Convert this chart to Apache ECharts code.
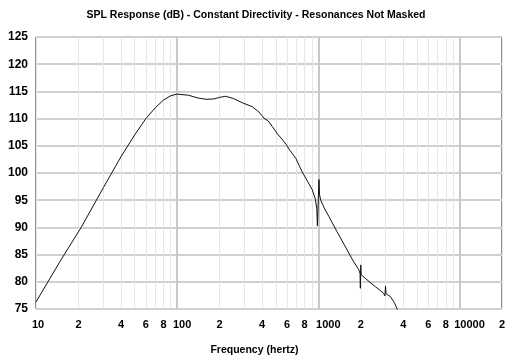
<!DOCTYPE html>
<html><head><meta charset="utf-8">
<script src="https://cdn.jsdelivr.net/npm/echarts@6/dist/echarts.min.js"></script>
<style>html,body{margin:0;padding:0;background:#fff}#c{width:512px;height:364px}</style>
</head><body><div id="c"></div>
<script>
const titleText = 'SPL Response (dB) - Constant Directivity - Resonances Not Masked';
const xAxisName = 'Frequency (hertz)';
const freqs = [10,15,21,30,40,50,60,70,80,90,100,120,140,160,180,200,220,250,290,340,380,413,440,473,520,550,590,620,692,769,850,906,950,975,985,1010,1020,1040,1100,1188,1350,1558,1750,1937,1975,1985,1997,2010,2158,2537,2904,2960,2990,3020,3236,3450,3620,3700];
const spl   = [76.3,84.0,90.1,97.3,103.0,107.0,110.0,112.0,113.4,114.2,114.5,114.3,113.8,113.55,113.6,113.9,114.1,113.7,112.9,112.2,111.2,110.05,109.6,108.5,107.0,106.3,105.3,104.4,102.7,100.2,98.2,96.9,95.3,93.5,90.3,98.8,96.0,95.0,93.6,92.0,89.3,86.4,84.0,82.2,81.5,78.8,83.1,81.3,80.6,79.1,77.9,77.4,79.2,77.8,77.3,76.2,75.0,74.6];
const minorTicks = [10,20,30,40,50,60,70,80,90,100,200,300,400,500,600,700,800,900,1000,2000,3000,4000,5000,6000,7000,8000,9000,10000,20000];
const majorTicks = [100,1000,10000];
const xLabelValues = [10,20,40,60,80,100,200,400,600,800,1000,2000,4000,6000,8000,10000,20000];
const yTicks = [75,80,85,90,95,100,105,110,115,120,125];

const chart = echarts.init(document.getElementById('c'));
const lblFont = 'Liberation Sans';
const shiftStyle = {d10: 4, d100: 10, d1000: 20, d10000: 20};
const rich = {};
Object.keys(shiftStyle).forEach(k => {
  rich[k] = {padding: [0, 0, 0, shiftStyle[k]], fontFamily: lblFont, fontWeight: 'bold', fontSize: 11, color: '#000'};
});
chart.setOption({
  animation: false,
  backgroundColor: '#fff',
  title: {text: titleText, left: 'center', top: 5,
    textStyle: {fontFamily: 'Liberation Sans', fontWeight: 'bold', fontSize: 10.5, color: '#000'}},
  grid: {left: 36, right: 10, top: 37, bottom: 55, show: true, borderColor: '#222', borderWidth: 1, backgroundColor: 'transparent'},
  xAxis: [{
    type: 'log', logBase: 10, min: 10, max: 20000,
    name: xAxisName, nameLocation: 'middle', nameGap: 36,
    nameTextStyle: {fontFamily: 'Liberation Sans', fontWeight: 'bold', fontSize: 10.5, color: '#000', padding: [0, 29, 0, 0]},
    axisLine: {show: false},
    axisTick: {show: false, customValues: minorTicks},
    axisLabel: {customValues: xLabelValues, margin: 10, color: '#000', fontFamily: lblFont, fontWeight: 'bold', fontSize: 11,
      rich: rich,
      formatter: v => { const s = String(Math.round(v)); return /^10+$/.test(s) ? '{d' + s + '|' + s + '}' : s[0]; }},
    splitLine: {show: true, lineStyle: {color: '#e6e6e6', width: 1}}
  }, {
    type: 'log', logBase: 10, min: 10, max: 20000, position: 'bottom',
    axisLine: {show: false}, axisLabel: {show: false},
    axisTick: {show: false, customValues: majorTicks},
    splitLine: {show: true, lineStyle: {color: '#c8c8c8', width: 2}}
  }],
  yAxis: {
    type: 'value', min: 75, max: 125, interval: 5,
    axisLine: {show: false}, axisTick: {show: false},
    axisLabel: {customValues: yTicks, margin: 8, color: '#000', fontFamily: lblFont, fontWeight: 'bold', fontSize: 12},
    splitLine: {show: true, lineStyle: {color: '#d0d0d0', width: 2}}
  },
  series: [{
    type: 'line', xAxisIndex: 0, showSymbol: false, clip: true,
    lineStyle: {color: '#111', width: 1},
    data: freqs.map((f, i) => [f, spl[i]])
  }]
});
</script></body></html>
